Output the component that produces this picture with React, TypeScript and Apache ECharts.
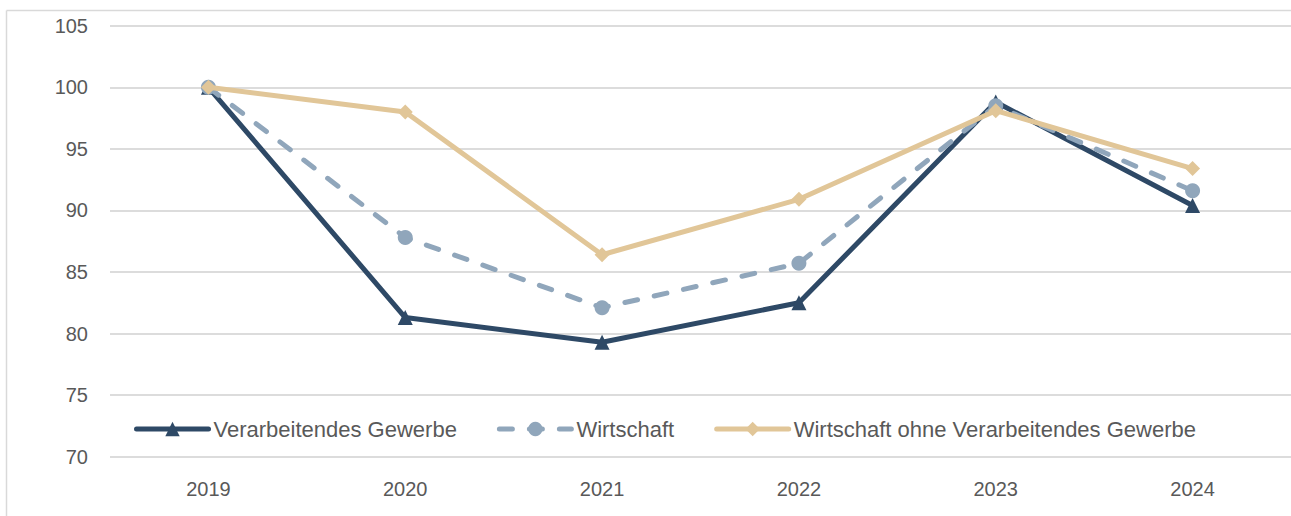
import React, { useEffect, useRef } from "react";
import * as echarts from "echarts";

const years = ["2019", "2020", "2021", "2022", "2023", "2024"];
const verarbeitendesGewerbe = [100, 81.3, 79.3, 82.5, 98.8, 90.4];
const wirtschaft = [100, 87.8, 82.1, 85.7, 98.5, 91.6];
const wirtschaftOhneVG = [100, 98.0, 86.4, 90.9, 98.1, 93.4];
const seriesNames = [
  "Verarbeitendes Gewerbe",
  "Wirtschaft",
  "Wirtschaft ohne Verarbeitendes Gewerbe",
];

const FONT = "'Liberation Sans', Arial, sans-serif";
const TEXT_COLOR = "#595959";

export default function App() {
  const ref = useRef<HTMLDivElement>(null);
  useEffect(() => {
    if (!ref.current) return;
    const chart = echarts.init(ref.current, undefined, { renderer: "svg" });
    chart.setOption({
      animation: false,
      backgroundColor: "#ffffff",
      textStyle: { fontFamily: FONT },
      graphic: [
        {
          type: "line",
          shape: { x1: 6.5, y1: 10.5, x2: 1291, y2: 10.5 },
          style: { stroke: "#D9D9D9", lineWidth: 1.5 },
          silent: true,
        },
        {
          type: "line",
          shape: { x1: 6.5, y1: 10.5, x2: 6.5, y2: 516 },
          style: { stroke: "#D9D9D9", lineWidth: 1.5 },
          silent: true,
        },
      ],
      grid: { left: 110, top: 25.7, width: 1182, bottom: 59.3, containLabel: false },
      legend: {
        left: 134,
        top: 418,
        padding: 0,
        itemWidth: 72,
        itemHeight: 18,
        itemGap: 40,
        lineStyle: { width: 5, cap: "round" },
        textStyle: { color: TEXT_COLOR, fontSize: 22, fontFamily: FONT },
        data: seriesNames,
      },
      xAxis: {
        type: "category",
        data: years,
        boundaryGap: true,
        axisLine: { show: false },
        axisTick: { show: false },
        axisLabel: { color: TEXT_COLOR, fontSize: 20, fontFamily: FONT, margin: 22 },
        splitLine: { show: false },
      },
      yAxis: {
        type: "value",
        min: 70,
        max: 105,
        interval: 5,
        axisLine: { show: false },
        axisTick: { show: false },
        axisLabel: { color: TEXT_COLOR, fontSize: 20, fontFamily: FONT, margin: 22 },
        splitLine: { show: true, lineStyle: { color: "#DCDCDC", width: 2 } },
      },
      series: [
        {
          name: seriesNames[0],
          type: "line",
          data: verarbeitendesGewerbe,
          symbol: "triangle",
          symbolSize: 15,
          itemStyle: { color: "#2E4966" },
          lineStyle: { color: "#2E4966", width: 5, join: "round" },
          z: 2,
        },
        {
          name: seriesNames[1],
          type: "line",
          data: wirtschaft,
          symbol: "circle",
          symbolSize: 15,
          itemStyle: { color: "#90A6BB" },
          lineStyle: { color: "#90A6BB", width: 5, type: [13, 17], cap: "round" },
          z: 3,
        },
        {
          name: seriesNames[2],
          type: "line",
          data: wirtschaftOhneVG,
          symbol: "diamond",
          symbolSize: 15,
          itemStyle: { color: "#E1C698" },
          lineStyle: { color: "#E1C698", width: 5, join: "round" },
          z: 4,
        },
      ],
    });
    return () => chart.dispose();
  }, []);
  return (
    <div
      ref={ref}
      style={{ position: "absolute", left: 0, top: 0, width: 1291, height: 516 }}
    />
  );
}
